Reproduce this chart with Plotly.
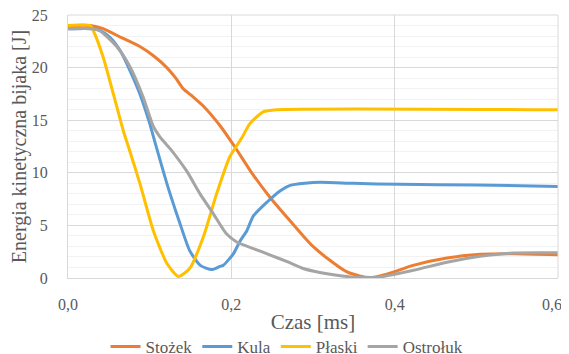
import plotly.graph_objects as go

t_stozek = [0, 0.027, 0.043, 0.064, 0.088, 0.105, 0.121, 0.132, 0.141, 0.152, 0.165, 0.186, 0.204, 0.225, 0.247, 0.27, 0.288, 0.30, 0.317, 0.341, 0.357, 0.37, 0.382, 0.40, 0.4225, 0.464, 0.505, 0.545, 0.6]
e_stozek = [24.0, 24.0, 23.7, 22.9, 22.0, 21.1, 20.0, 19.0, 18.0, 17.3, 16.4, 14.5, 12.5, 10.0, 7.7, 5.6, 4.0, 3.0, 1.9, 0.6, 0.2, 0.05, 0.2, 0.6, 1.2, 1.9, 2.25, 2.3, 2.2]

t_kula = [0, 0.03, 0.04, 0.051, 0.064, 0.076, 0.088, 0.100, 0.1065, 0.121, 0.137, 0.149, 0.162, 0.176, 0.186, 0.190, 0.2025, 0.2106, 0.219, 0.227, 0.2435, 0.26, 0.272, 0.29, 0.309, 0.349, 0.4065, 0.5, 0.6]
e_kula = [23.7, 23.7, 23.5, 22.9, 21.6, 19.7, 17.5, 14.7, 12.9, 9.0, 5.2, 2.6, 1.2, 0.8, 1.1, 1.2, 2.3, 3.5, 4.5, 5.9, 7.2, 8.3, 8.8, 9.0, 9.1, 9.0, 8.9, 8.85, 8.7]

t_plaski = [0, 0.027, 0.031, 0.043, 0.0555, 0.0677, 0.0739, 0.088, 0.1045, 0.121, 0.135, 0.149, 0.1657, 0.182, 0.198, 0.2127, 0.2229, 0.239, 0.2555, 0.6]
e_plaski = [24.0, 24.0, 23.5, 21.0, 17.5, 14.0, 12.5, 9.0, 4.5, 1.4, 0.15, 0.9, 3.9, 8.0, 11.5, 13.3, 14.7, 15.8, 16.0, 16.0]

t_ostroluk = [0, 0.03, 0.039, 0.0596, 0.076, 0.092, 0.1045, 0.1127, 0.125, 0.145, 0.1617, 0.178, 0.194, 0.207, 0.227, 0.247, 0.27, 0.288, 0.31, 0.329, 0.351, 0.382, 0.423, 0.464, 0.5045, 0.545, 0.6]
e_ostroluk = [23.7, 23.7, 23.5, 22.0, 20.06, 17.2, 14.4, 13.4, 12.3, 10.2, 8.0, 6.1, 4.2, 3.4, 2.8, 2.2, 1.5, 0.9, 0.5, 0.26, 0.08, 0.1, 0.73, 1.5, 2.06, 2.38, 2.4]

x_tickvals = [0, 0.2, 0.4, 0.6]
x_ticktext = ["0,0", "0,2", "0,4", "0,6\u00a0\u00a0\u00a0"]
y_tickvals = [0, 5, 10, 15, 20, 25]

series = [
    ("Stożek", t_stozek, e_stozek, "#ED7D31"),
    ("Kula", t_kula, e_kula, "#5B9BD5"),
    ("Płaski", t_plaski, e_plaski, "#FFC000"),
    ("Ostrołuk", t_ostroluk, e_ostroluk, "#A5A5A5"),
]

FONT = "Liberation Serif"

fig = go.Figure()
for name, t, e, c in series:
    fig.add_trace(go.Scatter(x=t, y=e, name=name, mode="lines",
                             line=dict(color=c, width=3, shape="spline", smoothing=0.6)))

# page body has an 8px margin; figure is sized to fit the 569x354 window
fig.update_layout(
    width=561, height=346,
    margin=dict(l=60, r=11, t=7, b=76, autoexpand=False),
    paper_bgcolor="white", plot_bgcolor="white",
    font=dict(family=FONT, color="#595959", size=16),
    showlegend=True,
    legend=dict(orientation="h", x=0.447, xanchor="center", y=-0.262, yanchor="middle",
                font=dict(family=FONT, size=17, color="#595959"),
                itemwidth=30, tracegroupgap=0),
)
fig.update_xaxes(
    range=[0, 0.6], tickvals=x_tickvals, ticktext=x_ticktext,
    showgrid=True, gridcolor="#D9D9D9", gridwidth=1,
    showline=True, linecolor="#D9D9D9", linewidth=1,
    zeroline=False, ticks="", ticklabelstandoff=12, automargin=False,
    ticklabeloverflow="allow",
    title=dict(text="Czas [ms]", font=dict(family=FONT, size=21, color="#595959"), standoff=2),
    tickfont=dict(family=FONT, size=16, color="#595959"),
)
fig.update_yaxes(
    range=[0, 25], tickvals=y_tickvals,
    showgrid=True, gridcolor="#D9D9D9", gridwidth=1,
    minor=dict(dtick=1, showgrid=True, gridcolor="#F2F2F2", gridwidth=1),
    showline=True, linecolor="#D9D9D9", linewidth=1,
    zeroline=False, ticks="", ticklabelstandoff=16, automargin=False,
    ticklabeloverflow="allow",
    title=dict(text="Energia kinetyczna bijaka [J]", font=dict(family=FONT, size=20, color="#595959"), standoff=11),
    tickfont=dict(family=FONT, size=16, color="#595959"),
)
fig.add_shape(type="line", xref="paper", yref="paper", x0=1, x1=1, y0=0, y1=1,
              line=dict(color="#D9D9D9", width=1))
fig.add_shape(type="line", xref="paper", yref="paper", x0=0, x1=1, y0=1, y1=1,
              line=dict(color="#D9D9D9", width=1))

fig.write_html("out.html")
